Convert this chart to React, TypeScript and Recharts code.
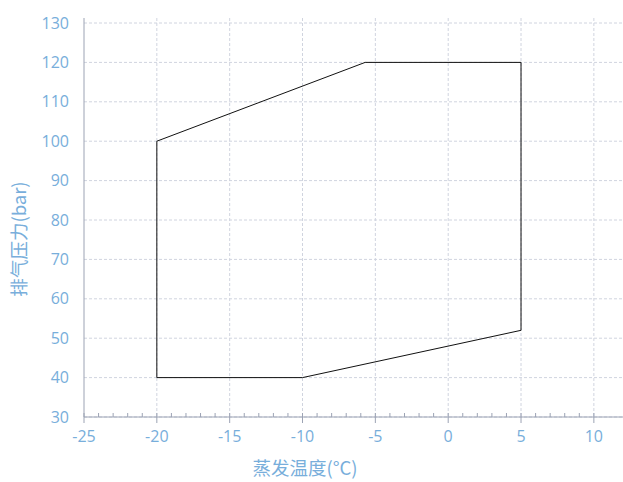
import React from "react";
import { LineChart, Line, XAxis, YAxis, CartesianGrid, Label } from "recharts";

// Envelope boundary (evaporating temperature °C, discharge pressure bar)
const evapTemp = [-20, -5.7, 5, 5, -10, -20, -20];
const dischargePressure = [100, 120, 120, 52, 40, 40, 100];
const xTicks = [-25, -20, -15, -10, -5, 0, 5, 10];
const xMinorTicks = [
  -25, -24, -23, -22, -21, -20, -19, -18, -17, -16, -15, -14, -13, -12, -11, -10,
  -9, -8, -7, -6, -5, -4, -3, -2, -1, 0, 1, 2, 3, 4, 5, 6, 7, 8, 9, 10,
];
const yTicks = [30, 40, 50, 60, 70, 80, 90, 100, 110, 120, 130];
const xDomain = [-25, 12];
const yDomain = [30, 130];
const xTitle = "蒸发温度(°C)";
const yTitle = "排气压力(bar)";

const data = evapTemp.map((x, i) => ({ x, y: dischargePressure[i] }));

const TICK_COLOR = "#78aedb";
const AXIS_COLOR = "#9ca3b4";
const GRID_COLOR = "#d0d4df";
const FONT = "'Open Sans', 'Noto Sans CJK SC', sans-serif";
const TITLE_FONT = "'Noto Sans CJK SC', sans-serif";

const XTitle = (props: any) => {
  const vb = props.viewBox;
  return (
    <text
      x={vb.x + vb.width / 2 - 48.5}
      y={vb.y + 58}
      textAnchor="middle"
      fill={TICK_COLOR}
      style={{ fontFamily: TITLE_FONT, fontSize: 18.5 }}
    >
      {xTitle}
    </text>
  );
};

const YTitle = (props: any) => {
  const vb = props.viewBox;
  const cx = vb.x + 18;
  const cy = vb.y + vb.height / 2 + 21.5;
  return (
    <text
      x={cx}
      y={cy}
      transform={`rotate(-90 ${cx} ${cy})`}
      textAnchor="middle"
      dominantBaseline="central"
      fill={TICK_COLOR}
      style={{ fontFamily: TITLE_FONT, fontSize: 18.5 }}
    >
      {yTitle}
    </text>
  );
};

const EmptyTick = () => <g />;

export default function App() {
  return (
    <div style={{ position: "absolute", left: 0, top: 0, background: "#fff" }}>
      <LineChart
        width={623}
        height={482}
        data={data}
        margin={{ top: 18, right: 0, bottom: 0, left: 0 }}
        style={{ fontFamily: FONT }}
      >
        <CartesianGrid
          stroke={GRID_COLOR}
          strokeDasharray="3 2"
          verticalValues={xTicks.slice(1)}
          horizontalValues={yTicks}
        />
        <XAxis
          dataKey="x"
          type="number"
          domain={xDomain}
          ticks={xTicks}
          allowDataOverflow
          height={65}
          tickSize={6}
          tickMargin={8}
          stroke={AXIS_COLOR}
          tick={{ fill: TICK_COLOR, fontSize: 16, fontFamily: FONT }}
          tickLine={{ stroke: AXIS_COLOR }}
          axisLine={{ stroke: AXIS_COLOR }}
          label={<Label content={<XTitle />} />}
        />
        <XAxis
          xAxisId="minor"
          dataKey="x"
          type="number"
          domain={xDomain}
          ticks={xMinorTicks}
          interval={0}
          allowDataOverflow
          mirror
          height={10}
          tickSize={4}
          tick={<EmptyTick />}
          tickLine={{ stroke: AXIS_COLOR }}
          axisLine={false}
        />
        <YAxis
          type="number"
          domain={yDomain}
          ticks={yTicks}
          width={84}
          padding={{ top: 5, bottom: 0 }}
          tickLine={false}
          tickSize={6}
          tickMargin={9}
          axisLine={{ stroke: AXIS_COLOR }}
          tick={{ fill: TICK_COLOR, fontSize: 16, fontFamily: FONT }}
          label={<Label content={<YTitle />} />}
        />
        <Line
          type="linear"
          dataKey="y"
          stroke="#111"
          strokeWidth={1}
          dot={false}
          isAnimationActive={false}
        />
      </LineChart>
    </div>
  );
}
